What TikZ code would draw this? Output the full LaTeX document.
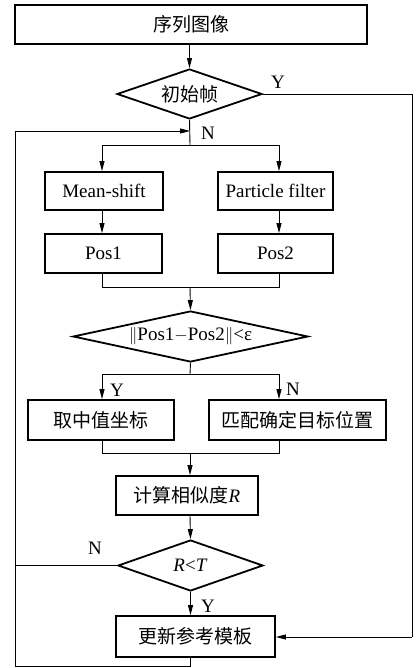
\documentclass[tikz,border=0pt]{standalone}
\usepackage{fontspec}
\setmainfont{Liberation Serif}
\newfontfamily\cjk{Noto Sans CJK SC}
\usetikzlibrary{shapes.geometric,arrows.meta}
\begin{document}
\begin{tikzpicture}[x=1pt,y=-1pt,
  box/.style={draw,line width=1.8pt,inner sep=0pt,font=\fontsize{19}{22}\selectfont},
  dec/.style={draw,diamond,line width=1.8pt,inner sep=0pt,font=\fontsize{19}{22}\selectfont},
  conn/.style={line width=0.9pt},
  arr/.style={conn,-{Triangle[length=10pt,width=5pt]}},
  lab/.style={font=\fontsize{19}{22}\selectfont,inner sep=0pt}]
\useasboundingbox (0,0) rectangle (416,668);
\node[box,minimum width=352pt,minimum height=39pt] (seq) at (191,24.5) {\cjk 序列图像};
\node[dec,minimum width=145pt,minimum height=50pt] (init) at (189.5,94) {\makebox[0pt]{\cjk 初始帧}};
\node[box,minimum width=118pt,minimum height=38pt] (ms) at (104,191) {Mean-shift};
\node[box,minimum width=115pt,minimum height=38pt] (pf) at (275.5,191) {Particle filter};
\node[box,minimum width=117pt,minimum height=39pt] (p1) at (103.5,253.5) {Pos1};
\node[box,minimum width=115pt,minimum height=39pt] (p2) at (275.5,253.5) {Pos2};
\node[dec,minimum width=235pt,minimum height=51pt] (cmp) at (190.5,336.5) {\makebox[0pt]{$\|$Pos1$-$Pos2$\|$<ε}};
\node[box,minimum width=146pt,minimum height=40pt] (mid) at (101,420) {\cjk 取中值坐标};
\node[box,minimum width=177pt,minimum height=40pt] (match) at (297.5,420) {\cjk 匹配确定目标位置};
\node[box,minimum width=142pt,minimum height=39pt] (sim) at (187,495.5) {{\cjk 计算相似度}\textit{R}};
\node[dec,minimum width=145pt,minimum height=51pt] (rt) at (190.5,565.5) {\makebox[0pt]{\textit{R}<\textit{T}}};
\node[box,minimum width=159pt,minimum height=41pt] (upd) at (195.5,636.5) {\cjk 更新参考模板};
\coordinate (trunk) at (190,131);
\coordinate (br1) at (190,145);
\coordinate (br1l) at (102,145);
\coordinate (br1r) at (279,145);
\coordinate (m1l) at (102,287);
\coordinate (m1r) at (279,287);
\coordinate (m1) at (190,287);
\coordinate (br2) at (190,374);
\coordinate (br2l) at (102,374);
\coordinate (br2r) at (279,374);
\coordinate (m2l) at (102,453);
\coordinate (m2r) at (279,453);
\coordinate (m2) at (190,453);
\coordinate (yr) at (412,94);
\coordinate (yrb) at (412,637);
\coordinate (loopb) at (190,666);
\coordinate (loopbl) at (15,666);
\coordinate (loopt) at (15,131);
\coordinate (nl) at (15,565.5);
\draw[arr] (seq.south -| init.north) -- (init.north);
\draw[conn] (init.south) -- (br1);
\draw[conn] (br1l) -- (br1r);
\draw[arr] (br1l) -- (br1l |- ms.north);
\draw[arr] (br1r) -- (br1r |- pf.north);
\draw[arr] (br1l |- ms.south) -- (br1l |- p1.north);
\draw[arr] (br1r |- pf.south) -- (br1r |- p2.north);
\draw[conn] (br1l |- p1.south) -- (m1l) -- (m1r) -- (br1r |- p2.south);
\draw[arr] (m1) -- (cmp.north);
\draw[conn] (cmp.south) -- (br2);
\draw[conn] (br2l) -- (br2r);
\draw[arr] (br2l) -- (br2l |- mid.north);
\draw[arr] (br2r) -- (br2r |- match.north);
\draw[conn] (br2l |- mid.south) -- (m2l) -- (m2r) -- (br2r |- match.south);
\draw[arr] (m2) -- (m2 |- sim.north);
\draw[arr] (m2 |- sim.south) -- (rt.north);
\draw[arr] (rt.south) -- (rt.south |- upd.north);
\draw[conn] (init.east) -- (yr) -- (yrb);
\draw[arr] (yrb) -- (upd.east |- yrb);
\draw[conn] (upd.south -| loopb) -- (loopb) -- (loopbl) -- (loopt);
\draw[arr] (loopt) -- (trunk);
\draw[conn] (rt.west) -- (nl);
\node[lab] at (278,82) {Y};
\node[lab] at (208,133) {N};
\node[lab] at (117,390) {Y};
\node[lab] at (293,389) {N};
\node[lab] at (95,548) {N};
\node[lab] at (208,606) {Y};
\end{tikzpicture}
\end{document}
